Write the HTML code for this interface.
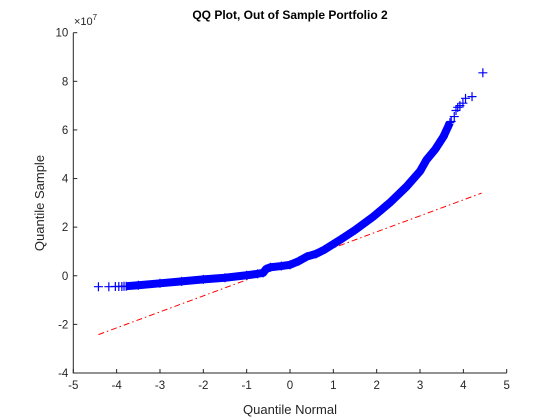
<!DOCTYPE html>
<html><head><meta charset="utf-8"><style>
body{margin:0;background:#fff;}
svg{display:block;font-family:"Liberation Sans",Arial,sans-serif;}
</style></head><body>
<svg id="chart" width="560" height="420" viewBox="0 0 560 420" xmlns="http://www.w3.org/2000/svg">
<rect width="560" height="420" fill="#fff"/>
<g id="marks"></g>
<g id="axes"></g>
</svg>
<script>
const xTicks=[-5,-4,-3,-2,-1,0,1,2,3,4,5];
const yTicks=[-4,-2,0,2,4,6,8,10];
// dense body of quantile pairs (theoretical normal quantile, sample quantile in 1e7)
const bodyX=[-3.78,-3.5,-3,-2.5,-2,-1.5,-1,-0.75,-0.62,-0.55,-0.45,-0.2,0,0.2,0.39,0.6,0.8,1.15,1.5,1.92,2.3,2.69,3.0,3.15,3.35,3.54,3.69];
const bodyY=[-0.43,-0.39,-0.31,-0.23,-0.15,-0.08,0.02,0.08,0.12,0.28,0.35,0.4,0.45,0.6,0.79,0.9,1.08,1.47,1.88,2.43,3.0,3.67,4.3,4.77,5.2,5.72,6.3];
// sparse tail points
const tailX=[-4.42,-4.18,-4.03,-3.95,-3.88,-3.83,3.72,3.79,3.83,3.87,3.92,3.99,4.05,4.2,4.45];
const tailY=[-0.45,-0.45,-0.44,-0.44,-0.44,-0.43,6.35,6.55,6.8,6.93,7.0,7.1,7.3,7.37,8.35];
// reference line endpoints
const lineX=[-4.42,4.42];
const lineY=[-2.42,3.4];

const X0=73.3,X1=506.7,Y0=373,Y1=32.7;
const sx=v=>X0+(v+5)/10*(X1-X0);
const sy=v=>Y0-(v+4)/14*(Y0-Y1);
const NS="http://www.w3.org/2000/svg";
const mk=(t,a,p)=>{const e=document.createElementNS(NS,t);for(const k in a)e.setAttribute(k,a[k]);p.appendChild(e);return e;};
const marks=document.getElementById('marks'),axes=document.getElementById('axes');

const rl=mk('line',{x1:sx(lineX[0]),y1:sy(lineY[0]),x2:sx(lineX[1]),y2:sy(lineY[1]),stroke:'#ff0000','stroke-width':1,'stroke-dasharray':'6,3,1.5,3'},marks);


let pts=bodyX.map((x,i)=>sx(x)+','+sy(bodyY[i])).join(' ');
const band=mk('polyline',{points:pts,fill:'none',stroke:'#0000ff','stroke-width':8,'stroke-linejoin':'round'},marks);


const plus=(x,y,name)=>{const g=mk('path',{d:`M${x-4.5},${y}H${x+4.5}M${x},${y-4.5}V${y+4.5}`,stroke:'#0000ff','stroke-width':1.2,fill:'none'},marks);

};
bodyX.forEach((x,i)=>plus(sx(x),sy(bodyY[i]),'sample-point'));
tailX.forEach((x,i)=>plus(sx(x),sy(tailY[i]),'tail-point'));

const ax=mk('path',{d:`M${X0},${Y1}V${Y0}H${X1}`,stroke:'#262626','stroke-width':1,fill:'none'},axes);


xTicks.forEach(v=>{const x=sx(v);mk('line',{x1:x,y1:Y0,x2:x,y2:Y0-4,stroke:'#262626'},axes);
const t=mk('text',{x:x,y:Y0+16,'text-anchor':'middle','font-size':11.5,fill:'#262626'},axes);t.textContent=v;

});
yTicks.forEach(v=>{const y=sy(v);mk('line',{x1:X0,y1:y,x2:X0+4,y2:y,stroke:'#262626'},axes);
const t=mk('text',{x:X0-5,y:y+4,'text-anchor':'end','font-size':11.5,fill:'#262626'},axes);t.textContent=v;

});
</script>
<svg style="position:absolute;left:0;top:0" width="560" height="420" xmlns="http://www.w3.org/2000/svg" font-family="Liberation Sans, Arial, sans-serif">
<text x="290" y="19" text-anchor="middle" font-size="12" font-weight="bold" fill="#000">QQ Plot, Out of Sample Portfolio 2</text>
<text x="74" y="25" font-size="11" fill="#262626">×10<tspan font-size="8" dy="-5">7</tspan></text>
<text x="290" y="414" text-anchor="middle" font-size="13" fill="#262626">Quantile Normal</text>
<text transform="translate(44,203) rotate(-90)" text-anchor="middle" font-size="13" fill="#262626">Quantile Sample</text>
</svg>
</body></html>
